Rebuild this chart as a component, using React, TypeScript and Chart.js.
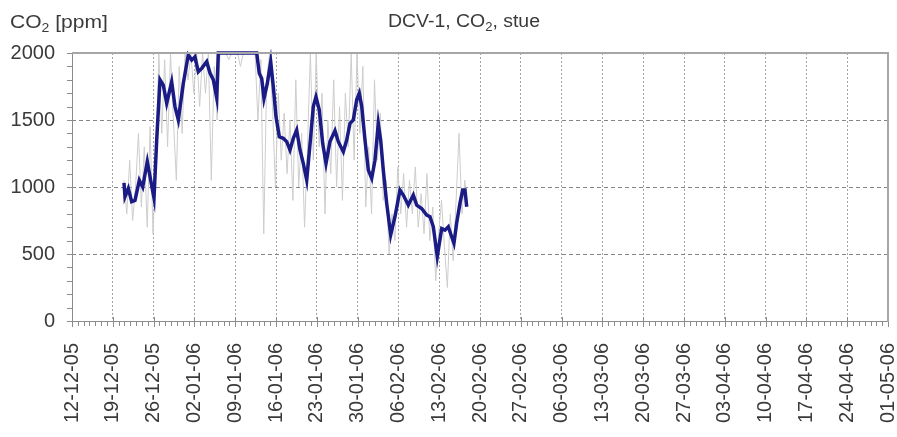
import React, { useEffect, useRef } from "react";
import { Chart, registerables } from "chart.js";

Chart.register(...registerables);

// x tick labels, one per week starting at 12-12-05 (day 0)
const xTickLabels = [
  "12-12-05", "19-12-05", "26-12-05", "02-01-06", "09-01-06", "16-01-06", "23-01-06",
  "30-01-06", "06-02-06", "13-02-06", "20-02-06", "27-02-06", "06-03-06", "13-03-06",
  "20-03-06", "27-03-06", "03-04-06", "10-04-06", "17-04-06", "24-04-06", "01-05-06",
];
const yMin = 0;
const yMax = 2000;
const yStep = 500;
const yMinorStep = 100;
const xDaysTotal = 140;

// Smoothed (averaged) CO2 series: day since 12-12-05, ppm
const avgDays = [
  8.92, 9.09, 9.66, 10.24, 10.81, 11.55, 12.13, 12.92, 13.5, 14.07, 14.53, 15.1, 15.66,
  16.25, 17.1, 17.67, 18.24, 19.1, 19.95, 20.54, 21.1, 21.67, 22.25, 23.11, 23.68, 24.24,
  24.83, 25.1, 31.69, 32.13, 32.55, 32.94, 33.51, 34.09, 34.54, 35.0, 35.57, 36.25, 36.84,
  37.4, 37.97, 38.55, 39.12, 39.68, 40.27, 40.95, 41.4, 41.86, 42.43, 43.01, 43.58, 44.26,
  45.12, 45.69, 46.55, 47.13, 47.7, 48.26, 48.84, 49.29, 49.71, 50.27, 50.84, 51.42, 51.98,
  52.55, 52.96, 53.41, 53.99, 54.68, 55.41, 56.27, 56.84, 57.7, 58.56, 59.14, 59.99, 60.86,
  61.42, 61.99, 62.67, 63.43, 63.99, 64.56, 65.14, 65.53, 65.99, 66.56, 67.03, 67.42, 67.72,
];
const avgValues = [
  1030, 927, 990, 890, 900, 1050, 1000, 1190, 1050, 917, 1350, 1800, 1760,
  1625, 1785, 1600, 1500, 1775, 1985, 1947, 1972, 1860, 1885, 1935, 1850, 1800,
  1664, 2000, 2000, 1848, 1810, 1660, 1773, 1935, 1748, 1524, 1375, 1363, 1338,
  1276, 1363, 1425, 1276, 1176, 1052, 1375, 1600, 1673, 1574, 1326, 1176, 1340,
  1420, 1338, 1263, 1350, 1475, 1500, 1650, 1700, 1600, 1350, 1126, 1065, 1200,
  1475, 1350, 1126, 878, 642, 778, 977, 940, 865, 940, 865, 840, 790,
  778, 703, 480, 690, 678, 703, 629, 580, 729, 878, 977, 977, 853,
];

// Raw measurements (half-day resolution), first sample on day 8.9
const rawStartDay = 8.9;
const rawStepDays = 0.5;
const rawValues = [
  1050, 800, 1200, 750, 1000, 1400, 850, 1300, 700, 1450,
  650, 1200, 2000, 1400, 1950, 1300, 2000, 1500, 1050, 1900,
  1400, 2000, 1800, 2000, 1700, 2000, 1600, 2000, 1700, 2000,
  1050, 1900, 1500, 2000,
  2000, 2000, 1950, 2000, 2000, 2000, 1900, 2000, 2000, 2000, 2000, 2000,
  1500, 1950, 650, 1800, 2000, 1600, 1000, 1700, 1200, 1550,
  1100, 1500, 900, 1800, 1000, 1400, 700, 1300, 2000, 1200,
  2000, 1300, 1700, 800, 1500, 1100, 1800, 1000, 1600, 900,
  1700, 1300, 2000, 1200, 2000, 1400, 1900, 850, 1300, 800,
  1800, 1200, 1550, 900, 1050, 500, 800, 600, 1150, 800,
  1100, 700, 1050, 800, 1150, 700, 950, 650, 1100, 600,
  850, 300, 650, 900, 550, 250, 800, 450, 900, 1400,
  800, 1050, 850,
];

const FONT = "'Liberation Sans', Arial, Helvetica, sans-serif";
const TEXT_COLOR = "#3a3a3a";

const framePlugin = {
  id: "framePlugin",
  afterDraw(chart: any) {
    const { ctx, chartArea, scales } = chart;
    const xs = scales.x;
    const ys = scales.y;
    const { left, right, top, bottom } = chartArea;
    ctx.save();
    // minor / major ticks on x axis (daily)
    ctx.strokeStyle = "#8c8c8c";
    ctx.lineWidth = 1;
    for (let d = 0; d <= xDaysTotal; d++) {
      const px = Math.round(xs.getPixelForValue(d)) + 0.5;
      ctx.beginPath();
      if (d % 7 === 0) {
        ctx.moveTo(px, bottom - 4);
        ctx.lineTo(px, bottom + 6);
      } else {
        ctx.moveTo(px, bottom);
        ctx.lineTo(px, bottom + 5);
      }
      ctx.stroke();
    }
    // minor ticks on y axis
    for (let v = yMin; v <= yMax; v += yMinorStep) {
      const py = Math.round(ys.getPixelForValue(v)) + 0.5;
      ctx.beginPath();
      ctx.moveTo(left - 5, py);
      ctx.lineTo(left + 1, py);
      ctx.stroke();
    }
    // frame
    ctx.strokeStyle = "#8c8c8c";
    ctx.lineWidth = 1;
    ctx.beginPath();
    ctx.moveTo(Math.round(left) + 0.5, top);
    ctx.lineTo(Math.round(left) + 0.5, bottom + 0.5);
    ctx.lineTo(right, Math.round(bottom) + 0.5);
    ctx.stroke();
    ctx.strokeStyle = "#a6a6a6";
    ctx.lineWidth = 2;
    ctx.beginPath();
    ctx.moveTo(left, Math.round(top));
    ctx.lineTo(Math.round(right), Math.round(top));
    ctx.lineTo(Math.round(right), bottom + 1);
    ctx.stroke();

    // texts
    ctx.fillStyle = TEXT_COLOR;
    ctx.textBaseline = "alphabetic";
    ctx.textAlign = "left";
    const drawSub = (parts: [string, boolean][], x: number, y: number, size: number, sx: number) => {
      ctx.save();
      ctx.translate(x, y);
      ctx.scale(sx, 1);
      let cx = 0;
      for (const [t, sub] of parts) {
        ctx.font = `${sub ? Math.round(size * 0.68) : size}px ${FONT}`;
        ctx.fillText(t, cx, sub ? 4 : 0);
        cx += ctx.measureText(t).width;
      }
      ctx.restore();
    };
    drawSub([["CO", false], ["2", true], [" [ppm]", false]], 10, 28, 18, 1.17);
    drawSub([["DCV-1, CO", false], ["2", true], [", stue", false]], 388, 27, 18, 1.08);
    ctx.restore();
  },
};

export default function App() {
  const ref = useRef<HTMLCanvasElement | null>(null);
  useEffect(() => {
    if (!ref.current) return;
    const avgData = avgDays.map((d, i) => ({ x: d, y: avgValues[i] }));
    const rawData = rawValues.map((v, i) => ({ x: rawStartDay + i * rawStepDays, y: v }));
    const chart = new Chart(ref.current, {
      type: "line",
      data: {
        datasets: [
          {
            data: avgData,
            borderColor: "#1b1b86",
            borderWidth: 3.5,
            pointRadius: 0,
            tension: 0,
            order: 0,
            clip: 4,
          } as any,
          {
            data: rawData,
            borderColor: "#cdcdcd",
            borderWidth: 1,
            pointRadius: 0,
            tension: 0,
            order: 1,
          } as any,
        ],
      },
      plugins: [framePlugin],
      options: {
        responsive: false,
        animation: false,
        events: [],
        layout: { padding: { top: 53, right: 9, left: 0, bottom: 0 } },
        plugins: {
          legend: { display: false },
          tooltip: { enabled: false },
          title: { display: false },
        },
        scales: {
          x: {
            type: "linear",
            min: 0,
            max: xDaysTotal,
            afterFit: (s: any) => {
              s.height = 116;
              s.paddingLeft = 0;
              s.paddingRight = 0;
            },
            border: { display: false, dash: [2, 2] },
            grid: {
              drawTicks: false,
              color: "#a4a4a4",
              lineWidth: 1,
            },
            ticks: {
              stepSize: 7,
              autoSkip: false,
              maxRotation: 90,
              minRotation: 90,
              padding: 22,
              color: TEXT_COLOR,
              font: { family: FONT, size: 20 },
              callback: (v: any) => xTickLabels[Math.round(Number(v) / 7)] ?? "",
            },
          },
          y: {
            min: yMin,
            max: yMax,
            afterFit: (s: any) => {
              s.width = 72;
              s.paddingTop = 0;
              s.paddingBottom = 0;
            },
            border: { display: false, dash: [4, 3] },
            grid: {
              drawTicks: false,
              color: "#858585",
              lineWidth: 1,
            },
            ticks: {
              stepSize: yStep,
              padding: 17,
              color: TEXT_COLOR,
              font: { family: FONT, size: 20 },
              callback: (v: any) => String(v),
            },
          },
        },
      } as any,
    });
    return () => chart.destroy();
  }, []);
  return (
    <div style={{ position: "fixed", left: 0, top: 0, width: 897, height: 437, background: "#fff" }}>
      <canvas ref={ref} width={897} height={437} style={{ display: "block" }} />
    </div>
  );
}
